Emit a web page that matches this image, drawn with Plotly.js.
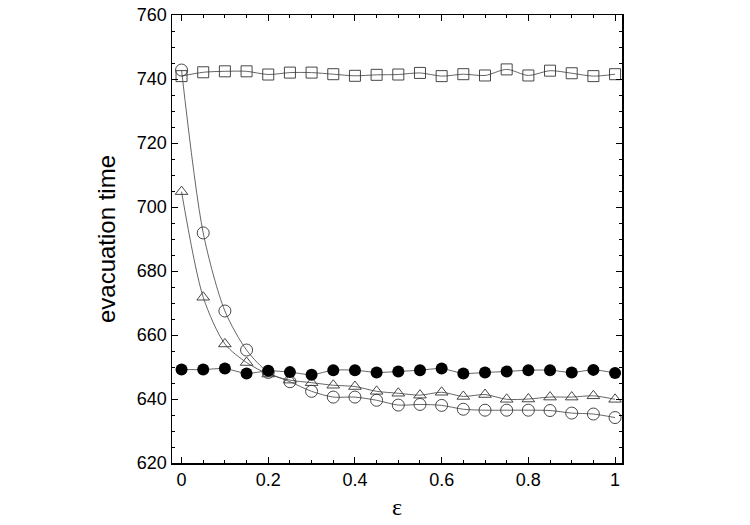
<!DOCTYPE html>
<html>
<head>
<meta charset="utf-8">
<script src="https://cdn.plot.ly/plotly-3.0.1.min.js"></script>
<style>html,body{margin:0;padding:0;background:#fff;}#chart{width:750px;height:525px;}</style>
</head>
<body>
<div id="chart"></div>
<script>
const epsilon = [0,0.05,0.1,0.15,0.2,0.25,0.3,0.35,0.4,0.45,0.5,0.55,0.6,0.65,0.7,0.75,0.8,0.85,0.9,0.95,1.0];
const squares = [740.9,742.1,742.4,742.4,741.4,742.0,742.0,741.5,741.0,741.3,741.4,741.9,740.9,741.5,741.1,743.0,741.1,742.6,741.8,740.9,741.5];
const openCircles = [742.8,691.9,667.5,655.3,648.3,645.4,642.4,640.6,640.6,639.6,638.1,638.3,638.0,636.8,636.5,636.5,636.5,636.4,635.6,635.3,634.2];
const triangles = [704.8,671.8,657.2,651.4,647.8,645.9,645.1,644.3,643.9,642.4,641.8,641.2,642.1,640.8,641.4,639.9,640.0,640.6,640.6,641.0,639.9];
const filledCircles = [649.2,649.2,649.5,648.0,648.8,648.4,647.6,649.0,649.0,648.3,648.6,649.0,649.5,648.0,648.3,648.6,649.0,649.0,648.3,649.1,648.1];

const lineStyle = {color:'#555', width:0.9, shape:'spline', smoothing:0.8};
function series(y, symbol, size){
  return {x:epsilon, y:y, type:'scatter', mode:'lines+markers', line:lineStyle,
    marker:{symbol:symbol, size:size, color:'#333', line:{width:0.9, color:'#333'}}, showlegend:false, cliponaxis:false};
}
const data = [
  series(squares,'square-open',11),
  series(triangles,'triangle-up-open',11),
  series(openCircles,'circle-open',12),
  {x:epsilon, y:filledCircles, type:'scatter', mode:'lines+markers', line:lineStyle,
   marker:{symbol:'circle', size:12, color:'#000'}, showlegend:false, cliponaxis:false}
];
const font = {family:'"Liberation Sans", Arial, sans-serif', color:'#000', size:18};
const layout = {
  width:750, height:525,
  margin:{l:172, r:128, t:15, b:62},
  paper_bgcolor:'#fff', plot_bgcolor:'#fff',
  font:font,
  xaxis:{range:[-0.022,1.016], tick0:0, dtick:0.2, ticks:'inside', ticklen:6, tickwidth:1, tickcolor:'#000',
    minor:{dtick:0.05, ticks:'inside', ticklen:3, tickcolor:'#000'},
    showline:true, linecolor:'#000', linewidth:1.5, mirror:'ticks', showgrid:false, zeroline:false,
    tickfont:font, title:{text:'ε', font:{family:'"Liberation Serif", "DejaVu Serif", serif', size:24, color:'#000'}, standoff:9}},
  yaxis:{range:[620,760], tick0:620, dtick:20, ticks:'inside', ticklen:6, tickwidth:1, tickcolor:'#000',
    minor:{dtick:5, ticks:'inside', ticklen:3, tickcolor:'#000'},
    showline:true, linecolor:'#000', linewidth:1.5, mirror:'ticks', showgrid:false, zeroline:false,
    tickfont:font, title:{text:'evacuation time', font:{family:font.family, size:24, color:'#000'}, standoff:14}}
};
Plotly.newPlot('chart', data, layout, {displayModeBar:false, staticPlot:true});
</script>
</body>
</html>
